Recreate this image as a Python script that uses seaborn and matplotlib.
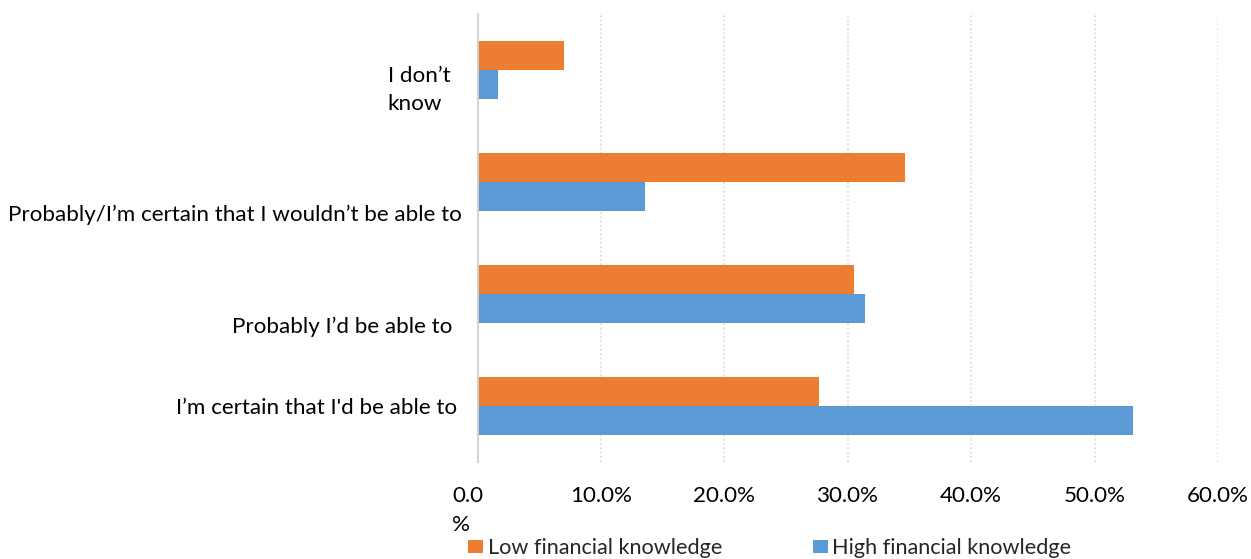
import numpy as np
import pandas as pd
import matplotlib
matplotlib.use("Agg")
import matplotlib.pyplot as plt
import seaborn as sns
from matplotlib.transforms import ScaledTranslation

# Survey answers (top to bottom) and share of respondents, in percent
answers = [
    "I don’t\nknow",
    "Probably/I’m certain that I wouldn’t be able to",
    "Probably I’d be able to",
    "I’m certain that I'd be able to",
]
low_knowledge = [7.0, 34.6, 30.5, 27.7]
high_knowledge = [1.7, 13.6, 31.4, 53.1]
groups = ["Low financial knowledge", "High financial knowledge"]
group_colors = ["#ED7D31", "#5B9BD5"]
tick_values = [0, 10, 20, 30, 40, 50, 60]
tick_labels = ["0.0\n%", "10.0%", "20.0%", "30.0%", "40.0%", "50.0%", "60.0%"]

df = pd.DataFrame({
    "answer": answers * 2,
    "group": [groups[0]] * len(answers) + [groups[1]] * len(answers),
    "share": low_knowledge + high_knowledge,
})

sns.set_theme(style="white")
plt.rcParams["font.family"] = ["Lato", "DejaVu Sans"]
FS = 16.1

fig = plt.figure(figsize=(12.51, 5.59), dpi=100)
ax = fig.add_axes([0.3817, 0.1735, 0.5919, 0.8014])

sns.barplot(
    data=df, y="answer", x="share", hue="group",
    order=answers, hue_order=groups,
    palette=dict(zip(groups, group_colors)), saturation=1,
    width=0.52, orient="h", linewidth=0, ax=ax,
)

ax.set_xlim(0, 60)
ax.set_ylim(3.5, -0.5)
ax.set_xlabel("")
ax.set_ylabel("")
ax.set_xticks(tick_values, tick_labels)

# dotted vertical gridlines, solid light axis line at zero
ax.grid(axis="x", color="#D9D9D9", linestyle=(0, (1.2, 1.6)), linewidth=1.1)
ax.set_axisbelow(True)
for name in ["top", "right", "bottom"]:
    ax.spines[name].set_visible(False)
ax.spines["left"].set_color("#D0D0D0")
ax.spines["left"].set_linewidth(1.3)
ax.xaxis.get_gridlines()[0].set_visible(False)

ax.tick_params(axis="x", length=0, pad=17.5, labelsize=FS, colors="#000000")
ax.tick_params(axis="y", length=0, pad=11, labelsize=FS, colors="#000000")

px = 1 / fig.dpi  # one pixel in inches

# wrapped zero label sits slightly left of its tick
zero_lbl = ax.get_xticklabels()[0]
zero_lbl.set_multialignment("left")
zero_lbl.set_linespacing(1.55)
zero_lbl.set_transform(zero_lbl.get_transform() + ScaledTranslation(-10 * px, 0, fig.dpi_scale_trans))

# category label placement
shifts = [(-12, -14), (0, -31), (-10, -31), (-5, 0)]
for lbl, (dx, dy) in zip(ax.get_yticklabels(), shifts):
    lbl.set_multialignment("left")
    lbl.set_linespacing(1.48)
    lbl.set_transform(lbl.get_transform() + ScaledTranslation(dx * px, dy * px, fig.dpi_scale_trans))

ax.legend(
    loc="center left", bbox_to_anchor=(468 / 1251, 1 - 548 / 559),
    bbox_transform=fig.transFigure, ncol=2, frameon=False,
    handlelength=0.7, handleheight=0.56, handletextpad=0.2,
    columnspacing=4.2, borderpad=0, borderaxespad=0, fontsize=15.6,
)

fig.savefig("out.png", dpi=100)
